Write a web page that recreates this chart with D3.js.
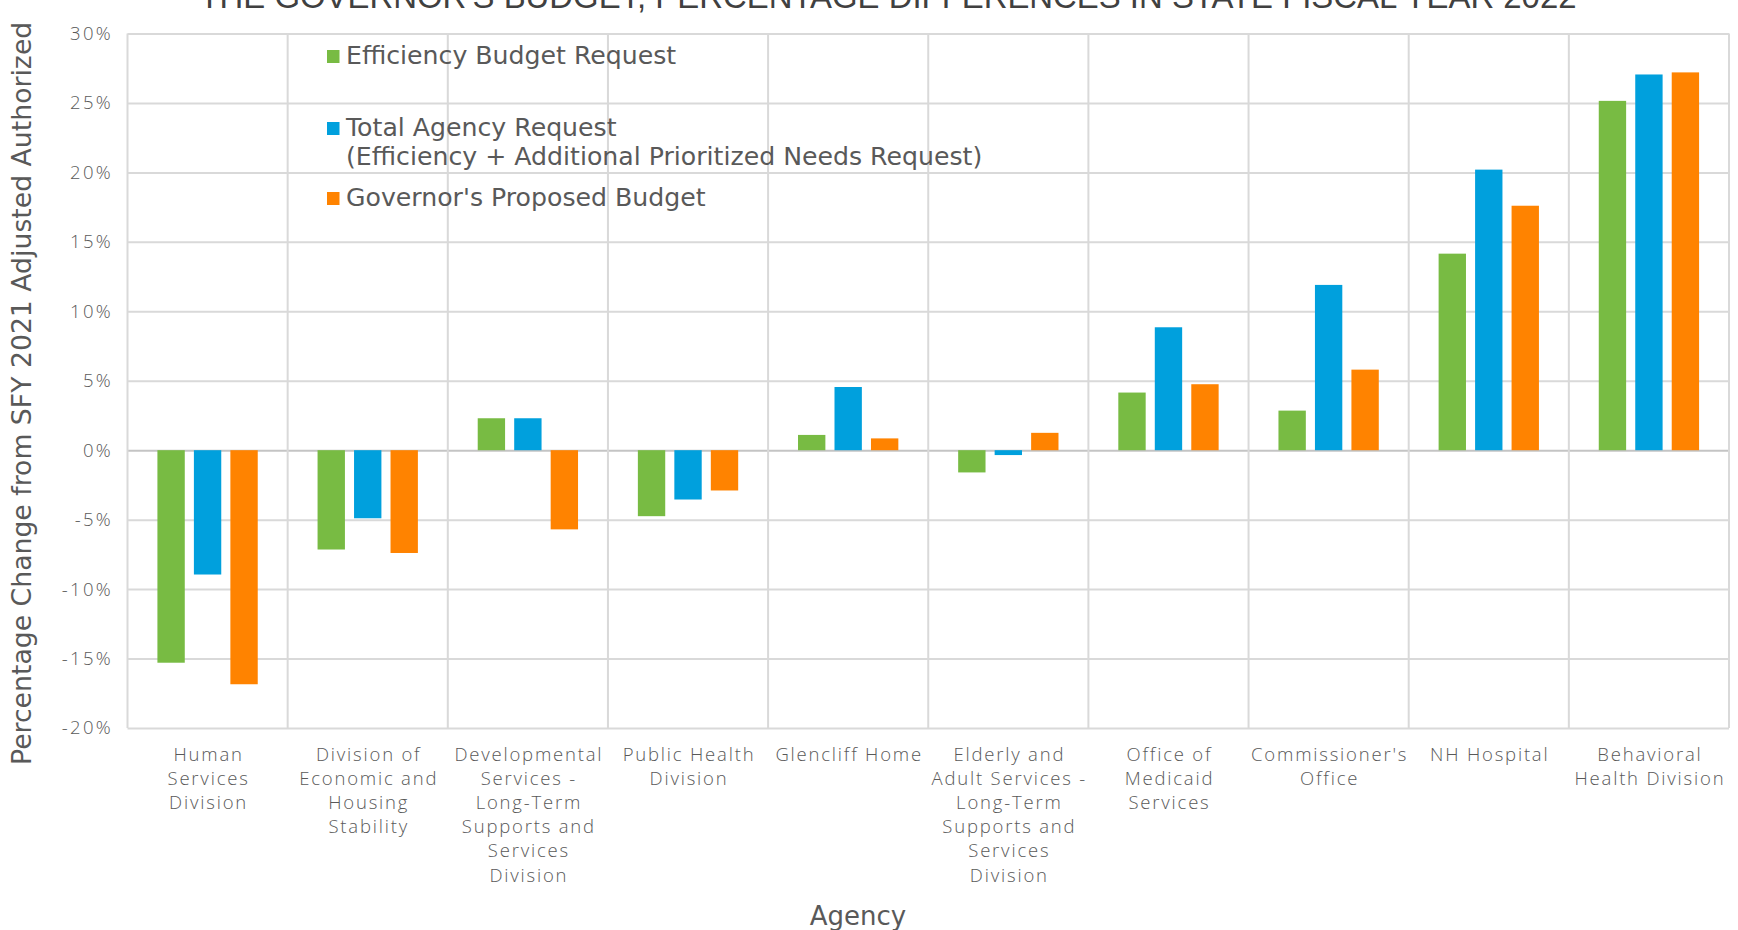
<!DOCTYPE html>
<html>
<head>
<meta charset="utf-8">
<script src="https://cdn.jsdelivr.net/npm/d3@7"></script>
<style>
  body { margin: 0; background: #fff; }
  svg { display: block; }
</style>
</head>
<body>
<div id="chart"></div>
<script>
// agency names, one entry per line of the tick label
var agencies = [
  ["Human", "Services", "Division"],
  ["Division of", "Economic and", "Housing", "Stability"],
  ["Developmental", "Services -", "Long-Term", "Supports and", "Services", "Division"],
  ["Public Health", "Division"],
  ["Glencliff Home"],
  ["Elderly and", "Adult Services -", "Long-Term", "Supports and", "Services", "Division"],
  ["Office of", "Medicaid", "Services"],
  ["Commissioner's", "Office"],
  ["NH Hospital"],
  ["Behavioral", "Health Division"]
];

var seriesNames = ["Efficiency Budget Request", "Total Agency Request", "Governor's Proposed Budget"];
var seriesColors = ["#78bb43", "#00a0dd", "#ff8300"];

// percent change per agency
var efficiency = [-15.3, -7.15, 2.3, -4.75, 1.1, -1.6, 4.15, 2.85, 14.15, 25.15];
var totalRequest = [-8.95, -4.9, 2.3, -3.55, 4.55, -0.35, 8.85, 11.9, 20.2, 27.05];
var governor = [-16.85, -7.4, -5.7, -2.9, 0.85, 1.25, 4.75, 5.8, 17.6, 27.2];

var yTicks = [-20, -15, -10, -5, 0, 5, 10, 15, 20, 25, 30];

var title = "THE GOVERNOR'S BUDGET, PERCENTAGE DIFFERENCES IN STATE FISCAL YEAR 2022";
var yTitle = "Percentage Change from SFY 2021 Adjusted Authorized";
var xTitle = "Agency";

var W = 1738, H = 930;
var margin = {top: 33.5, right: 9, bottom: 202, left: 127.5},
    width = W - margin.left - margin.right,
    height = H - margin.top - margin.bottom;

var svg = d3.select("#chart")
  .append("svg")
    .attr("width", W)
    .attr("height", H);

var g = svg.append("g")
    .attr("transform", "translate(" + margin.left + "," + margin.top + ")");

var keys = agencies.map(function(d, i) { return "a" + i; });

var x0 = d3.scaleBand()
  .domain(keys)
  .range([0, width])
  .padding(0);

var x1 = d3.scaleBand()
  .domain([0, 1, 2])
  .range([0, x0.bandwidth()])
  .paddingInner(0.25)
  .paddingOuter(0.82);

var y = d3.scaleLinear()
  .domain([-20, 30])
  .range([height, 0]);

var light = "'Open Sans', sans-serif";
var book = "'DejaVu Sans', sans-serif";
var textCol = "#595959";

// horizontal gridlines
g.append("g")
  .attr("class", "grid")
  .call(d3.axisLeft(y).tickValues(yTicks).tickSize(-width).tickFormat(""))
  .call(function(s) { s.select(".domain").remove(); })
  .selectAll("line")
    .attr("stroke", function(d) { return d === 0 ? "#c4c4c4" : "#d9d9d9"; })
    .attr("stroke-width", 2);

// vertical gridlines at category boundaries
var bounds = keys.map(function(k) { return x0(k); }).concat([width]);
g.selectAll("vline")
  .data(bounds)
  .enter()
  .append("line")
    .attr("x1", function(d) { return d; })
    .attr("x2", function(d) { return d; })
    .attr("y1", 0)
    .attr("y2", height)
    .attr("stroke", "#d9d9d9")
    .attr("stroke-width", 2);

// y tick labels
var yAxis = g.append("g")
  .call(d3.axisLeft(y).tickValues(yTicks).tickSize(0).tickPadding(14.5)
    .tickFormat(function(d) { return d + "%"; }));
yAxis.select(".domain").remove();
yAxis.selectAll("text")
  .style("font-family", light)
  .style("font-weight", 300)
  .style("font-size", "18.5px")
  .style("letter-spacing", "2.3px")
  .attr("fill", textCol);

// bars
var allSeries = [efficiency, totalRequest, governor];
var groups = g.selectAll("agency")
  .data(keys)
  .enter()
  .append("g")
    .attr("transform", function(d) { return "translate(" + x0(d) + ",0)"; });

groups.selectAll("rect")
  .data(function(d, i) { return allSeries.map(function(s, j) { return {s: j, v: s[i]}; }); })
  .enter()
  .append("rect")
    .attr("x", function(d) { return x1(d.s); })
    .attr("width", x1.bandwidth())
    .attr("y", function(d) { return y(Math.max(0, d.v)); })
    .attr("height", function(d) { return Math.abs(y(d.v) - y(0)); })
    .attr("fill", function(d) { return seriesColors[d.s]; });

// x tick labels (multi-line)
g.selectAll("xlab")
  .data(keys)
  .enter()
  .append("text")
    .attr("x", function(d) { return x0(d) + x0.bandwidth() / 2 + 1; })
    .attr("y", height + 33)
    .attr("text-anchor", "middle")
    .style("font-family", light)
    .style("font-weight", 300)
    .style("font-size", "18.5px")
    .style("letter-spacing", "1.8px")
    .attr("fill", textCol)
  .selectAll("tspan")
  .data(function(d, i) { return agencies[i]; })
  .enter()
  .append("tspan")
    .attr("x", function() { return d3.select(this.parentNode).attr("x"); })
    .attr("dy", function(d, i) { return i === 0 ? 0 : 24.1; })
    .text(function(d) { return d; });

// legend
var legendRows = [
  {s: 0, lines: [seriesNames[0]], y: 64},
  {s: 1, lines: [seriesNames[1], "(Efficiency + Additional Prioritized Needs Request)"], y: 136},
  {s: 2, lines: [seriesNames[2]], y: 206}
];
var legend = svg.append("g");
legendRows.forEach(function(r) {
  legend.append("rect")
    .attr("x", 327)
    .attr("y", r.y - 14)
    .attr("width", 12.5)
    .attr("height", 13)
    .attr("fill", seriesColors[r.s]);
  var t = legend.append("text")
    .attr("x", 346)
    .attr("y", r.y)
    .style("font-family", book)
    .style("font-size", "25.2px")
    .attr("fill", textCol);
  r.lines.forEach(function(l, i) {
    t.append("tspan").attr("x", 346).attr("dy", i === 0 ? 0 : 29).text(l);
  });
});

// titles
svg.append("text")
  .attr("x", 888)
  .attr("y", 7.5)
  .attr("text-anchor", "middle")
  .style("font-family", "'Liberation Sans', Arial, sans-serif")
  .style("font-size", "32.9px")
  .attr("fill", "#404040")
  .text(title);

svg.append("text")
  .attr("transform", "translate(31,765) rotate(-90)")
  .attr("text-anchor", "start")
  .style("font-family", book)
  .style("font-size", "26.7px")
  .attr("fill", textCol)
  .text(yTitle);

svg.append("text")
  .attr("x", 858)
  .attr("y", 924.5)
  .attr("text-anchor", "middle")
  .style("font-family", book)
  .style("font-size", "26px")
  .attr("fill", textCol)
  .text(xTitle);
</script>
</body>
</html>
